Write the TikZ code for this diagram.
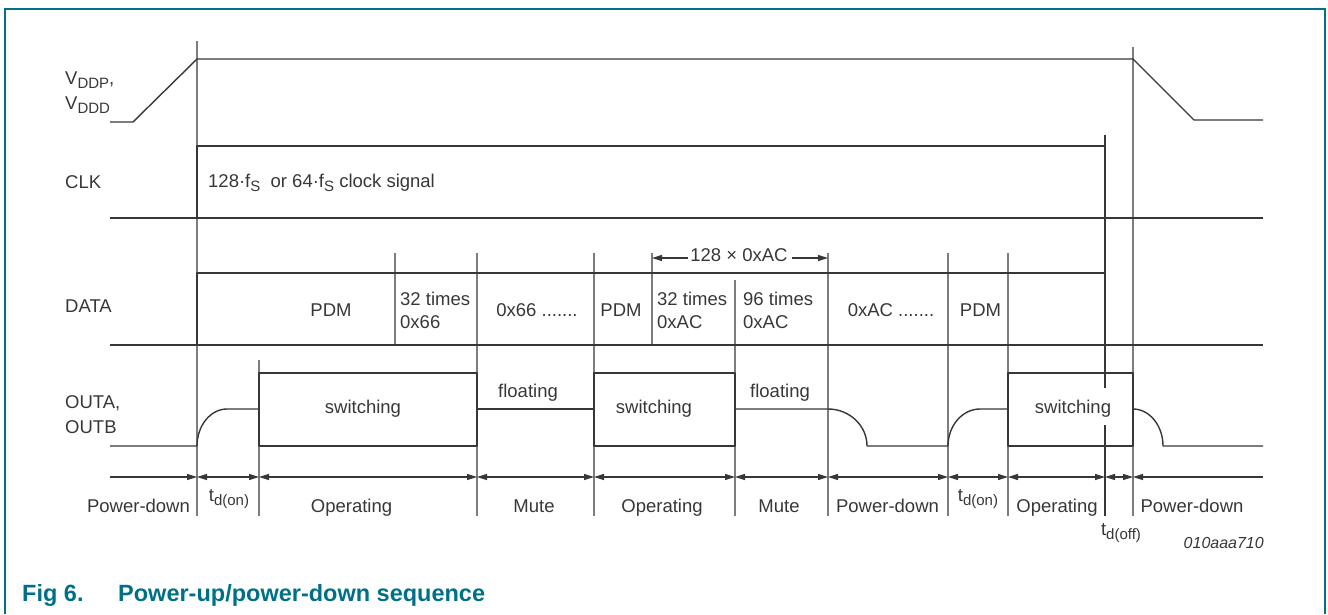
\documentclass[tikz,border=0pt]{standalone}
\usepackage{fontspec}
\setmainfont{Liberation Sans}
\usetikzlibrary{arrows.meta}

\definecolor{frameteal}{RGB}{0,112,135}
\definecolor{sigdark}{RGB}{55,55,55}
\definecolor{guidegray}{RGB}{125,125,125}

\newcommand{\lsub}[1]{\raisebox{-4.5pt}{\fontsize{15}{15}\selectfont #1}}

\tikzset{
  trace/.style={draw=sigdark, line width=1.4pt, line join=round},
  guide/.style={draw=guidegray, line width=1.2pt},
  txt/.style={font=\fontsize{18.5}{22}\selectfont, text=sigdark, inner sep=0pt},
  span/.style={draw=sigdark, line width=1.2pt,
    {Triangle[length=10pt,width=6pt]}-{Triangle[length=10pt,width=6pt]}},
  spanr/.style={draw=sigdark, line width=1.2pt, -{Triangle[length=10pt,width=6pt]}},
  spanl/.style={draw=sigdark, line width=1.2pt, {Triangle[length=10pt,width=6pt]}-},
}

\begin{document}
\begin{tikzpicture}[x=1pt, y=-1pt]
  \useasboundingbox (0,0) rectangle (1328,614);

  % frame
  \draw[frameteal, line width=1.5pt] (5,614) -- (5,9) -- (1325,9) -- (1325,614);

  % time markers
  \draw[guide] (197,41) -- (197,516);
  \draw[guide] (1133,47) -- (1133,516);
  \draw[guide] (259,360) -- (259,516);
  \foreach \x in {477,594,828,948,1008}
    \draw[guide] (\x,253) -- (\x,516);
  \foreach \x in {395,652}
    \draw[guide] (\x,253) -- (\x,345);
  \draw[guide] (735,280) -- (735,516);
  \draw[trace] (1105,135) -- (1105,388) (1105,425) -- (1105,516);

  % supply
  \draw[trace] (110,122) -- (133,122) -- (197,59) -- (1133,59)
    -- (1194,120) -- (1263,120);

  % CLK
  \draw[trace] (197,218) -- (197,146) -- (1105,146);
  \draw[trace] (110,218) -- (1263,218);

  % DATA
  \draw[trace] (197,345) -- (197,273) -- (1105,273);
  \draw[trace] (110,345) -- (1263,345);

  % OUTA, OUTB
  \draw[trace] (110,446) -- (197,446)
    .. controls (197,425.6) and (210.5,409) .. (227,409) -- (259,409);
  \draw[trace] (259,373) rectangle (477,446);
  \draw[trace] (477,409) -- (594,409);
  \draw[trace] (594,373) rectangle (735,446);
  \draw[trace] (735,409) -- (828,409)
    .. controls (849.5,409) and (867,425.6) .. (867,446) -- (948,446)
    .. controls (948,425.6) and (962.4,409) .. (980,409) -- (1008,409);
  \draw[trace] (1008,373) rectangle (1133,446);
  \draw[trace] (1133,409)
    .. controls (1149.5,409) and (1163,425.6) .. (1163,446) -- (1263,446);

  % phases
  \draw[spanr] (110,477) -- (197,477);
  \foreach \a/\b in {197/259,259/477,477/594,594/735,735/828,828/948,
                     948/1008,1008/1105,1105/1133}
    \draw[span] (\a,477) -- (\b,477);
  \draw[spanl] (1133,477) -- (1263,477);

  % burst length
  \coordinate (burstl) at (652,258);
  \coordinate (burstr) at (828,258);
  \node[txt, anchor=base] (burst) at (739,261) {128 × 0xAC};
  \draw[spanl] (burstl) -- ([xshift=-2pt,yshift=3pt]burst.base west);
  \draw[spanr] ([xshift=4pt,yshift=3pt]burst.base east) -- (burstr);

  % signal names
  \node[txt, anchor=base west] (vddp) at (65,84) {V\lsub{DDP},};
  \node[txt, anchor=base west] (vddd) at (65,109) {V\lsub{DDD}};
  \node[txt, anchor=base west] (clk) at (65,188) {CLK};
  \node[txt, anchor=base west] (data) at (65,312) {DATA};
  \node[txt, anchor=base west] (outa) at (65,408) {OUTA,};
  \node[txt, anchor=base west] (outb) at (65,433) {OUTB};

  \node[txt, anchor=base west] (clktxt) at (208,187)
    {128·f\lsub{S}\ \ or 64·f\lsub{S} clock signal};

  % data fields
  \node[txt, anchor=base] (pdma) at (331,316) {PDM};
  \node[txt, anchor=base west] (rep66a) at (400,305) {32 times};
  \node[txt, anchor=base west] (rep66b) at (400,328) {0x66};
  \node[txt, anchor=base] (mute66) at (537,316) {0x66 .......};
  \node[txt, anchor=base] (pdmb) at (621,316) {PDM};
  \node[txt, anchor=base west] (repaca) at (657,305) {32 times};
  \node[txt, anchor=base west] (repacb) at (657,328) {0xAC};
  \node[txt, anchor=base west] (repacc) at (743,305) {96 times};
  \node[txt, anchor=base west] (repacd) at (743,328) {0xAC};
  \node[txt, anchor=base] (muteac) at (891,316) {0xAC .......};
  \node[txt, anchor=base] (pdmc) at (980.5,316) {PDM};

  % output states
  \node[txt, anchor=base] (swa) at (363,413) {switching};
  \node[txt, anchor=base] (flta) at (528,397) {floating};
  \node[txt, anchor=base] (swb) at (654,413) {switching};
  \node[txt, anchor=base] (fltb) at (780,397) {floating};
  \node[txt, anchor=base] (swc) at (1073,413) {switching};

  % phase names
  \node[txt, anchor=base] (pda) at (138.5,512) {Power-down};
  \node[txt, anchor=base] (tona) at (229,501) {t\lsub{d(on)}};
  \node[txt, anchor=base] (opa) at (351.5,512) {Operating};
  \node[txt, anchor=base] (mutea) at (534,512) {Mute};
  \node[txt, anchor=base] (opb) at (662,512) {Operating};
  \node[txt, anchor=base] (muteb) at (779,512) {Mute};
  \node[txt, anchor=base] (pdb) at (887.5,512) {Power-down};
  \node[txt, anchor=base] (tonb) at (978,501) {t\lsub{d(on)}};
  \node[txt, anchor=base] (opc) at (1057,512) {Operating};
  \node[txt, anchor=base] (pdc) at (1192,512) {Power-down};
  \node[txt, anchor=base] (toff) at (1121,535) {t\lsub{d(off)}};

  \node[txt, anchor=base east, font=\fontsize{16}{18}\selectfont\itshape]
    (code) at (1264,548) {010aaa710};

  % caption
  \node[inner sep=0pt, anchor=base west, text=frameteal,
    font=\fontsize{23.5}{27}\selectfont\bfseries] (fignum) at (22,601) {Fig 6.};
  \node[inner sep=0pt, anchor=base west, text=frameteal,
    font=\fontsize{23.5}{27}\selectfont\bfseries] (figtitle) at (118,601)
    {Power-up/power-down sequence};

\end{tikzpicture}
\end{document}
